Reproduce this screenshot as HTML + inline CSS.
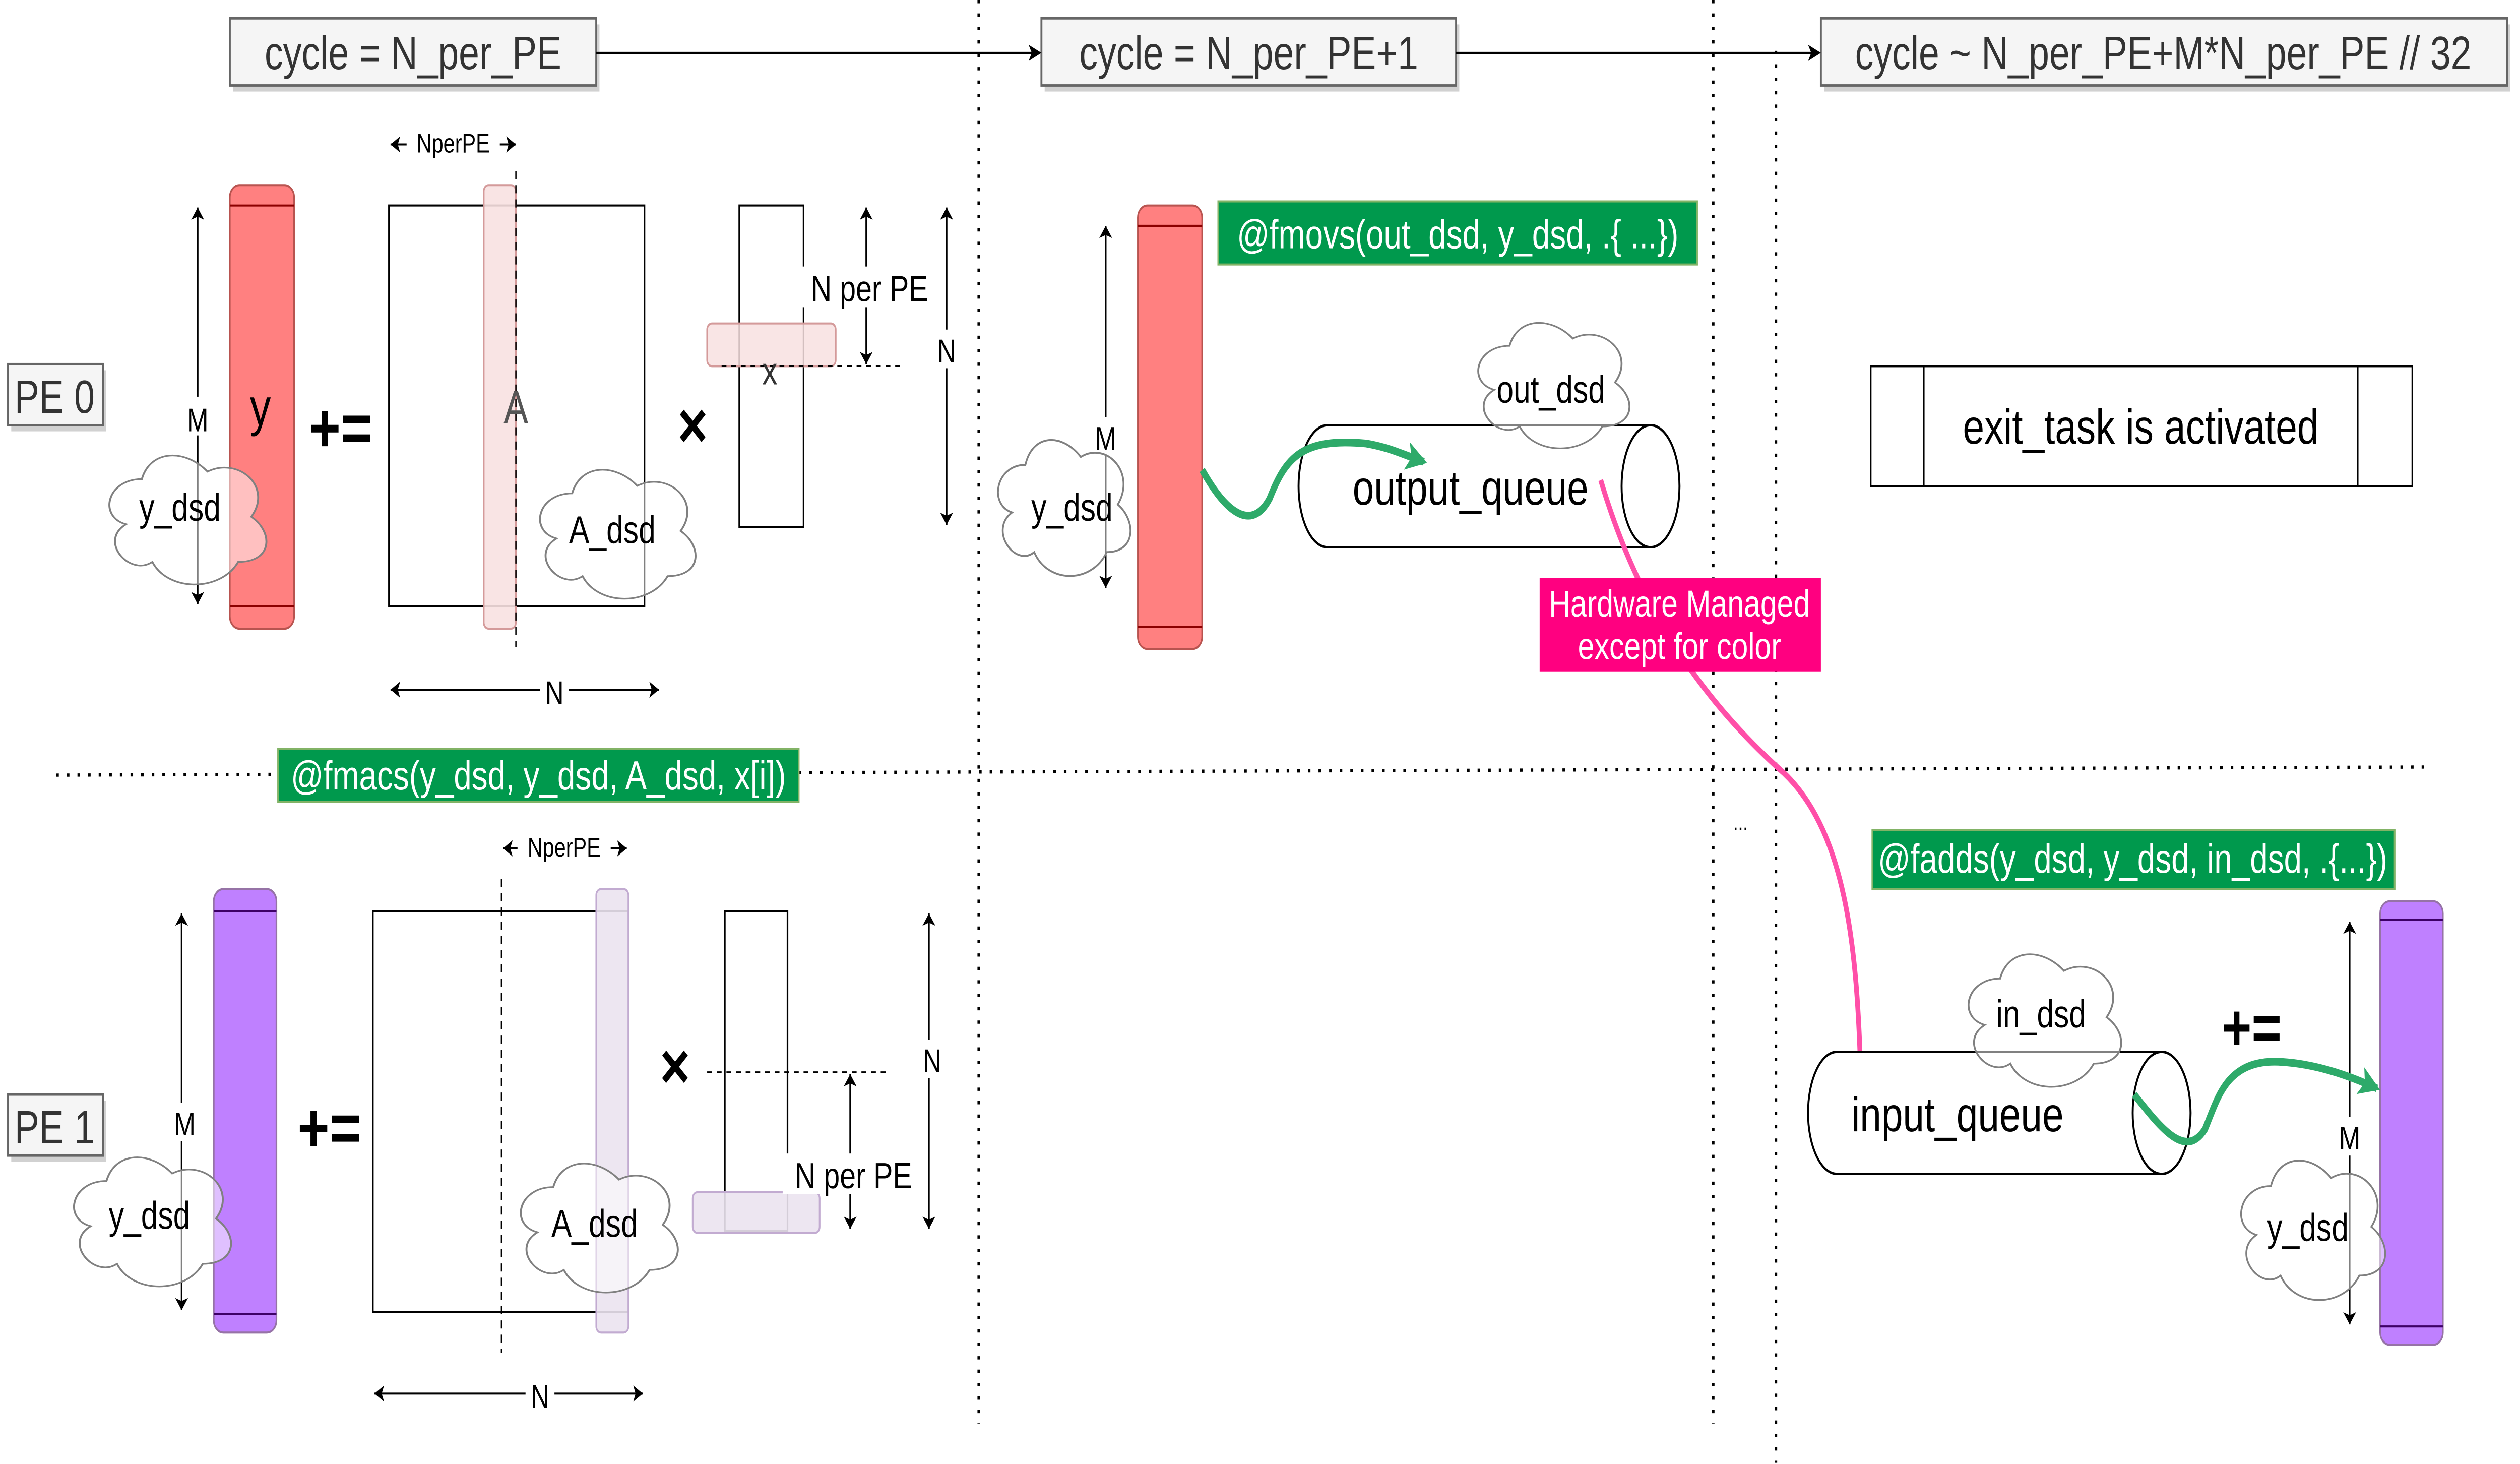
<!DOCTYPE html>
<html><head><meta charset="utf-8"><style>
html,body{margin:0;padding:0;background:#fff;width:100vw;height:100vh;overflow:hidden;}
svg{display:block;position:absolute;left:0;top:0;width:100vw;height:100vh;}
text{font-family:"Liberation Sans",Arial,sans-serif;}
</style></head><body>
<svg viewBox="0 0 1568 719.6" preserveAspectRatio="none" xmlns="http://www.w3.org/2000/svg">
<defs>
<marker id="ah" markerWidth="8" markerHeight="8" refX="7" refY="4" orient="auto" markerUnits="userSpaceOnUse"><path d="M0,0 L8,4 L0,8 L2,4 Z" fill="#000"/></marker>
<marker id="ahs" markerWidth="6" markerHeight="8" refX="6" refY="4" orient="auto-start-reverse" markerUnits="userSpaceOnUse"><path d="M0,0 L6,4 L0,8 L1.5,4 Z" fill="#000"/></marker>
<marker id="gh" markerWidth="14" markerHeight="14" refX="11" refY="7" orient="auto" markerUnits="userSpaceOnUse"><path d="M0,0 L13,7 L0,14 L3,7 Z" fill="#2eaa6a"/></marker>
<marker id="ph" markerWidth="12" markerHeight="14" refX="10" refY="7" orient="auto" markerUnits="userSpaceOnUse"><path d="M0,0 L12,7 L0,14 L3,7 Z" fill="#ff3399"/></marker>
</defs>

<g stroke="#000" stroke-width="1.6" stroke-dasharray="1.6,5" fill="none">
<line x1="609" y1="0" x2="609" y2="700"/>
<line x1="1066" y1="0" x2="1066" y2="700"/>
<line x1="1105" y1="25" x2="1105" y2="719"/>
<line x1="35" y1="381" x2="1512" y2="377"/>
</g>

<g fill="#000" fill-opacity="0.18">
<rect x="145" y="12" width="228" height="33"/>
<rect x="650" y="12" width="258" height="33"/>
<rect x="1135" y="12" width="427" height="33"/>
<rect x="7" y="182" width="59" height="30"/>
<rect x="7" y="541" width="59" height="30"/>
</g>
<rect x="143" y="9" width="228" height="33" fill="#f5f5f5" stroke="#666" stroke-width="1.2"/>
<rect x="648" y="9" width="258" height="33" fill="#f5f5f5" stroke="#666" stroke-width="1.2"/>
<rect x="1133" y="9" width="427" height="33" fill="#f5f5f5" stroke="#666" stroke-width="1.2"/>
<rect x="5" y="179" width="59" height="30" fill="#f5f5f5" stroke="#666" stroke-width="1.2"/>
<rect x="5" y="538" width="59" height="30" fill="#f5f5f5" stroke="#666" stroke-width="1.2"/>
<g font-size="23" fill="#333" text-anchor="middle">
<text x="257" y="34">cycle = N_per_PE</text>
<text x="777" y="34">cycle = N_per_PE+1</text>
<text x="1346" y="34">cycle ~ N_per_PE+M*N_per_PE // 32</text>
<text x="34" y="203">PE 0</text>
<text x="34" y="562">PE 1</text>
</g>
<line x1="371" y1="26" x2="647" y2="26" stroke="#000" stroke-width="1" marker-end="url(#ah)"/>
<line x1="906" y1="26" x2="1132" y2="26" stroke="#000" stroke-width="1" marker-end="url(#ah)"/>

<!-- PE0 left -->
<line x1="123" y1="102" x2="123" y2="297" stroke="#000" stroke-width="1" marker-start="url(#ahs)" marker-end="url(#ahs)"/>
<rect x="116" y="195" width="14" height="19" fill="#fff"/>
<text x="123" y="212" font-size="16" text-anchor="middle">M</text>
<rect x="143" y="91" width="40" height="218" rx="6" fill="#ff8080" stroke="#b85450" stroke-width="1"/>
<line x1="143" y1="101" x2="183" y2="101" stroke="#8b0000" stroke-width="1"/>
<line x1="143" y1="298" x2="183" y2="298" stroke="#8b0000" stroke-width="1"/>
<text x="162" y="209" font-size="26" text-anchor="middle">y</text>
<path transform="translate(61,217) scale(109,74)" d="M0.25,0.25 C0.05,0.25 0,0.5 0.16,0.55 C0,0.66 0.18,0.9 0.31,0.8 C0.4,1 0.7,1 0.8,0.8 C1,0.8 1,0.6 0.875,0.5 C1,0.3 0.8,0.1 0.625,0.2 C0.5,0.05 0.3,0.05 0.25,0.25 Z" fill="#ffffff" fill-opacity="0.5" stroke="#808080" stroke-width="0.011"/>
<text x="112" y="256" font-size="19" text-anchor="middle">y_dsd</text>
<text x="212" y="222" font-size="34" font-weight="bold" text-anchor="middle">+=</text>

<rect x="242" y="101" width="159" height="197" fill="none" stroke="#000" stroke-width="1"/>
<rect x="301" y="91" width="20" height="218" rx="3" fill="#f8e1e1" fill-opacity="0.9" stroke="#d49a9a" stroke-width="1"/>
<line x1="321" y1="84" x2="321" y2="318" stroke="#000" stroke-width="0.8" stroke-dasharray="4,3"/>
<text x="321" y="208" font-size="23" fill="#555" text-anchor="middle">A</text>
<line x1="243" y1="71" x2="321" y2="71" stroke="#000" stroke-width="1" marker-start="url(#ahs)" marker-end="url(#ahs)"/>
<rect x="253" y="63" width="58" height="15" fill="#fff"/>
<text x="282" y="75" font-size="13" text-anchor="middle">NperPE</text>
<path transform="translate(329,224) scale(108,74)" d="M0.25,0.25 C0.05,0.25 0,0.5 0.16,0.55 C0,0.66 0.18,0.9 0.31,0.8 C0.4,1 0.7,1 0.8,0.8 C1,0.8 1,0.6 0.875,0.5 C1,0.3 0.8,0.1 0.625,0.2 C0.5,0.05 0.3,0.05 0.25,0.25 Z" fill="#ffffff" fill-opacity="0.5" stroke="#808080" stroke-width="0.011"/>
<text x="381" y="267" font-size="19" text-anchor="middle">A_dsd</text>
<line x1="243" y1="339" x2="410" y2="339" stroke="#000" stroke-width="1" marker-start="url(#ahs)" marker-end="url(#ahs)"/>
<rect x="336" y="330" width="18" height="18" fill="#fff"/>
<text x="345" y="346" font-size="16" text-anchor="middle">N</text>
<text x="431" y="220" font-size="32" font-weight="bold" text-anchor="middle">×</text>

<rect x="460" y="101" width="40" height="158" fill="none" stroke="#000" stroke-width="1"/>
<rect x="440" y="159" width="80" height="21" rx="3" fill="#f8e1e1" fill-opacity="0.85" stroke="#d49a9a" stroke-width="1"/>
<line x1="449" y1="180" x2="563" y2="180" stroke="#000" stroke-width="0.8" stroke-dasharray="3,3"/>
<text x="479" y="189" font-size="19" fill="#333" text-anchor="middle">x</text>
<line x1="539" y1="102" x2="539" y2="179" stroke="#000" stroke-width="1" marker-start="url(#ahs)" marker-end="url(#ahs)"/>
<rect x="497" y="131" width="88" height="20" fill="#fff"/>
<text x="541" y="148" font-size="18" text-anchor="middle">N per PE</text>
<line x1="589" y1="102" x2="589" y2="258" stroke="#000" stroke-width="1" marker-start="url(#ahs)" marker-end="url(#ahs)"/>
<rect x="581" y="162" width="16" height="19" fill="#fff"/>
<text x="589" y="178" font-size="16" text-anchor="middle">N</text>

<!-- PE0 middle -->
<line x1="688" y1="111" x2="688" y2="289" stroke="#000" stroke-width="1" marker-start="url(#ahs)" marker-end="url(#ahs)"/>
<rect x="681" y="205" width="14" height="19" fill="#fff"/>
<text x="688" y="221" font-size="16" text-anchor="middle">M</text>
<rect x="708" y="101" width="40" height="218" rx="6" fill="#ff8080" stroke="#b85450" stroke-width="1"/>
<line x1="708" y1="111" x2="748" y2="111" stroke="#8b0000" stroke-width="1"/>
<line x1="708" y1="308" x2="748" y2="308" stroke="#8b0000" stroke-width="1"/>
<path transform="translate(615,209) scale(92,78)" d="M0.25,0.25 C0.05,0.25 0,0.5 0.16,0.55 C0,0.66 0.18,0.9 0.31,0.8 C0.4,1 0.7,1 0.8,0.8 C1,0.8 1,0.6 0.875,0.5 C1,0.3 0.8,0.1 0.625,0.2 C0.5,0.05 0.3,0.05 0.25,0.25 Z" fill="#ffffff" fill-opacity="0.5" stroke="#808080" stroke-width="0.012"/>
<text x="667" y="256" font-size="19" text-anchor="middle">y_dsd</text>

<rect x="758" y="99" width="298" height="31" fill="#00994d" stroke="#82b366" stroke-width="1"/>
<text x="907" y="122" font-size="20" fill="#fff" text-anchor="middle">@fmovs(out_dsd, y_dsd, .{ ...})</text>

<path d="M826,209 L1027,209 A18,30 0 0 1 1027,269 L826,269 A18,30 0 0 1 826,209 Z" fill="#fff" stroke="#000" stroke-width="1.2"/>
<ellipse cx="1027" cy="239" rx="18" ry="30" fill="#fff" stroke="#000" stroke-width="1.2"/>
<path transform="translate(913,152) scale(105,72)" d="M0.25,0.25 C0.05,0.25 0,0.5 0.16,0.55 C0,0.66 0.18,0.9 0.31,0.8 C0.4,1 0.7,1 0.8,0.8 C1,0.8 1,0.6 0.875,0.5 C1,0.3 0.8,0.1 0.625,0.2 C0.5,0.05 0.3,0.05 0.25,0.25 Z" fill="#ffffff" fill-opacity="0.5" stroke="#808080" stroke-width="0.011"/>
<text x="965" y="198" font-size="19" text-anchor="middle">out_dsd</text>
<text x="915" y="248" font-size="24" text-anchor="middle">output_queue</text>
<path d="M748,231 C765,255 780,260 790,245 C800,225 810,215 850,218 C865,220 875,224 886,227" fill="none" stroke="#2eaa6a" stroke-width="3.8" marker-end="url(#gh)"/>

<path d="M996,236 C1020,300 1060,345 1110,380 C1150,410 1156,470 1158,535" fill="none" stroke="#ff4fa8" stroke-width="3" marker-end="url(#ph)"/>
<rect x="958" y="284" width="175" height="46" fill="#ff0080"/>
<text x="1045" y="303" font-size="18.5" fill="#fff" text-anchor="middle">Hardware Managed</text>
<text x="1045" y="324" font-size="18.5" fill="#fff" text-anchor="middle">except for color</text>

<rect x="1164" y="180" width="337" height="59" fill="#fff" stroke="#000" stroke-width="1"/>
<line x1="1197" y1="180" x2="1197" y2="239" stroke="#000" stroke-width="1"/>
<line x1="1467" y1="180" x2="1467" y2="239" stroke="#000" stroke-width="1"/>
<text x="1332" y="218" font-size="24" text-anchor="middle">exit_task is activated</text>

<!-- PE1 left -->
<rect x="173" y="368" width="324" height="26" fill="#00994d" stroke="#82b366" stroke-width="1"/>
<text x="335" y="388" font-size="20" fill="#fff" text-anchor="middle">@fmacs(y_dsd, y_dsd, A_dsd, x[i])</text>

<line x1="113" y1="449" x2="113" y2="644" stroke="#000" stroke-width="1" marker-start="url(#ahs)" marker-end="url(#ahs)"/>
<rect x="106" y="542" width="16" height="19" fill="#fff"/>
<text x="115" y="558" font-size="16" text-anchor="middle">M</text>
<rect x="133" y="437" width="39" height="218" rx="6" fill="#bf80ff" stroke="#9673a6" stroke-width="1"/>
<line x1="133" y1="448" x2="172" y2="448" stroke="#3d0066" stroke-width="1"/>
<line x1="133" y1="646" x2="172" y2="646" stroke="#3d0066" stroke-width="1"/>
<path transform="translate(39,562) scale(109,74)" d="M0.25,0.25 C0.05,0.25 0,0.5 0.16,0.55 C0,0.66 0.18,0.9 0.31,0.8 C0.4,1 0.7,1 0.8,0.8 C1,0.8 1,0.6 0.875,0.5 C1,0.3 0.8,0.1 0.625,0.2 C0.5,0.05 0.3,0.05 0.25,0.25 Z" fill="#ffffff" fill-opacity="0.5" stroke="#808080" stroke-width="0.011"/>
<text x="93" y="604" font-size="19" text-anchor="middle">y_dsd</text>
<text x="205" y="566" font-size="34" font-weight="bold" text-anchor="middle">+=</text>

<rect x="232" y="448" width="159" height="197" fill="none" stroke="#000" stroke-width="1"/>
<line x1="312" y1="432" x2="312" y2="665" stroke="#000" stroke-width="0.8" stroke-dasharray="4,3"/>
<rect x="371" y="437" width="20" height="218" rx="3" fill="#ebe3f0" fill-opacity="0.9" stroke="#c2abd1" stroke-width="1"/>
<line x1="313" y1="417" x2="390" y2="417" stroke="#000" stroke-width="1" marker-start="url(#ahs)" marker-end="url(#ahs)"/>
<rect x="322" y="409" width="58" height="15" fill="#fff"/>
<text x="351" y="421" font-size="13" text-anchor="middle">NperPE</text>
<path transform="translate(317,565) scale(109,74)" d="M0.25,0.25 C0.05,0.25 0,0.5 0.16,0.55 C0,0.66 0.18,0.9 0.31,0.8 C0.4,1 0.7,1 0.8,0.8 C1,0.8 1,0.6 0.875,0.5 C1,0.3 0.8,0.1 0.625,0.2 C0.5,0.05 0.3,0.05 0.25,0.25 Z" fill="#ffffff" fill-opacity="0.5" stroke="#808080" stroke-width="0.011"/>
<text x="370" y="608" font-size="19" text-anchor="middle">A_dsd</text>
<line x1="233" y1="685" x2="400" y2="685" stroke="#000" stroke-width="1" marker-start="url(#ahs)" marker-end="url(#ahs)"/>
<rect x="327" y="676" width="18" height="18" fill="#fff"/>
<text x="336" y="692" font-size="16" text-anchor="middle">N</text>
<text x="420" y="535" font-size="32" font-weight="bold" text-anchor="middle">×</text>

<rect x="451" y="448" width="39" height="157" fill="none" stroke="#000" stroke-width="1"/>
<line x1="440" y1="527" x2="551" y2="527" stroke="#000" stroke-width="0.8" stroke-dasharray="3,3"/>
<rect x="431" y="586" width="79" height="20" rx="3" fill="#ebe3f0" fill-opacity="0.9" stroke="#c2abd1" stroke-width="1"/>
<line x1="529" y1="528" x2="529" y2="604" stroke="#000" stroke-width="1" marker-start="url(#ahs)" marker-end="url(#ahs)"/>
<rect x="487" y="567" width="88" height="20" fill="#fff"/>
<text x="531" y="584" font-size="18" text-anchor="middle">N per PE</text>
<line x1="578" y1="449" x2="578" y2="604" stroke="#000" stroke-width="1" marker-start="url(#ahs)" marker-end="url(#ahs)"/>
<rect x="571" y="511" width="16" height="19" fill="#fff"/>
<text x="580" y="527" font-size="16" text-anchor="middle">N</text>

<!-- PE1 right -->
<text x="1083" y="408" font-size="11" text-anchor="middle">...</text>
<rect x="1165" y="408" width="325" height="29" fill="#00994d" stroke="#82b366" stroke-width="1"/>
<text x="1327" y="429" font-size="20" fill="#fff" text-anchor="middle">@fadds(y_dsd, y_dsd, in_dsd, .{...})</text>

<path d="M1143,517 L1345,517 A18,30 0 0 1 1345,577 L1143,577 A18,30 0 0 1 1143,517 Z" fill="#fff" stroke="#000" stroke-width="1.2"/>
<ellipse cx="1345" cy="547" rx="18" ry="30" fill="#fff" stroke="#000" stroke-width="1.2"/>
<path transform="translate(1218,462) scale(106,76)" d="M0.25,0.25 C0.05,0.25 0,0.5 0.16,0.55 C0,0.66 0.18,0.9 0.31,0.8 C0.4,1 0.7,1 0.8,0.8 C1,0.8 1,0.6 0.875,0.5 C1,0.3 0.8,0.1 0.625,0.2 C0.5,0.05 0.3,0.05 0.25,0.25 Z" fill="#ffffff" fill-opacity="0.5" stroke="#808080" stroke-width="0.011"/>
<text x="1270" y="505" font-size="19" text-anchor="middle">in_dsd</text>
<text x="1218" y="556" font-size="24" text-anchor="middle">input_queue</text>
<text x="1401" y="516" font-size="32" font-weight="bold" text-anchor="middle">+=</text>

<line x1="1462" y1="453" x2="1462" y2="651" stroke="#000" stroke-width="1" marker-start="url(#ahs)" marker-end="url(#ahs)"/>
<rect x="1455" y="549" width="14" height="19" fill="#fff"/>
<text x="1462" y="565" font-size="16" text-anchor="middle">M</text>
<rect x="1481" y="443" width="39" height="218" rx="6" fill="#bf80ff" stroke="#9673a6" stroke-width="1"/>
<line x1="1481" y1="452" x2="1520" y2="452" stroke="#3d0066" stroke-width="1"/>
<line x1="1481" y1="652" x2="1520" y2="652" stroke="#3d0066" stroke-width="1"/>
<path transform="translate(1388,563) scale(100,80)" d="M0.25,0.25 C0.05,0.25 0,0.5 0.16,0.55 C0,0.66 0.18,0.9 0.31,0.8 C0.4,1 0.7,1 0.8,0.8 C1,0.8 1,0.6 0.875,0.5 C1,0.3 0.8,0.1 0.625,0.2 C0.5,0.05 0.3,0.05 0.25,0.25 Z" fill="#ffffff" fill-opacity="0.5" stroke="#808080" stroke-width="0.011"/>
<text x="1436" y="610" font-size="19" text-anchor="middle">y_dsd</text>
<path d="M1328,538 C1345,555 1360,570 1372,555 C1380,540 1385,520 1420,522 C1440,523 1460,528 1479,535" fill="none" stroke="#2eaa6a" stroke-width="3.8" marker-end="url(#gh)"/>
</svg>
</body></html>
